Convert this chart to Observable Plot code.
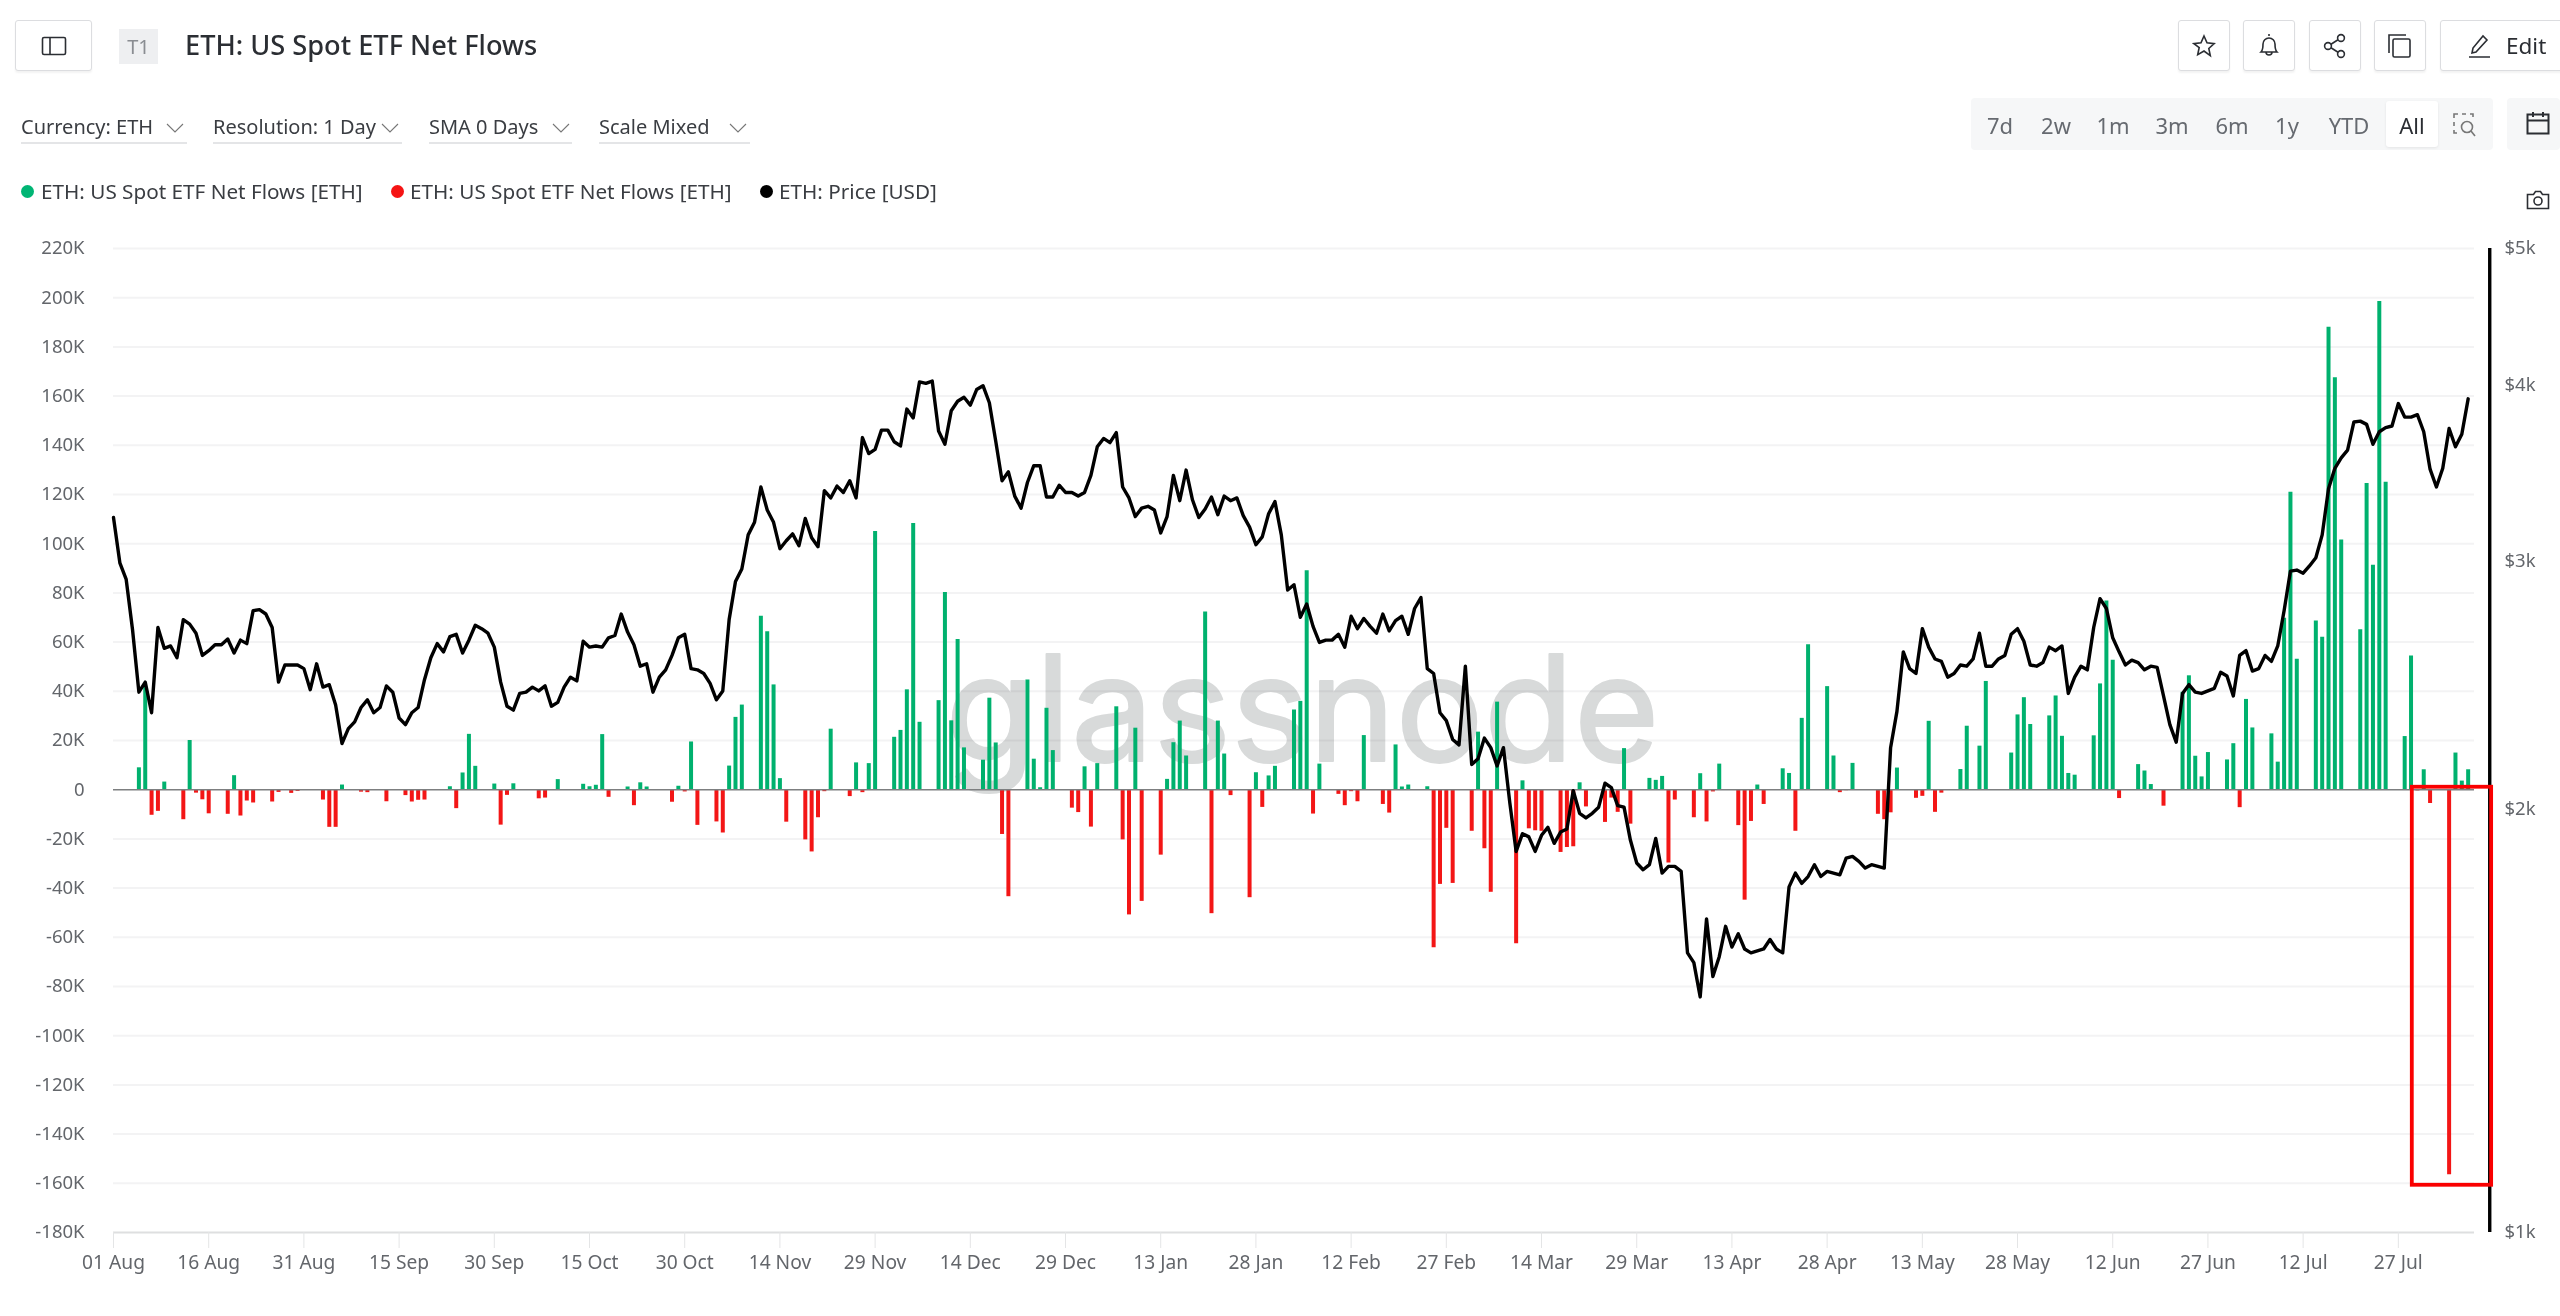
<!DOCTYPE html>
<html><head><meta charset="utf-8">
<script src="https://cdn.jsdelivr.net/npm/d3@7"></script>
<script src="https://cdn.jsdelivr.net/npm/@observablehq/plot@0.6"></script>
<style>
html,body{margin:0;padding:0;background:#fff;width:2560px;height:1316px;overflow:hidden;font-family:"Noto Sans",sans-serif;color:#2b2e33}
#hdr{position:relative;width:2560px;height:230px}
#hdr>*{position:absolute;box-sizing:border-box}
.btn{top:20px;height:51px;border:1px solid #dcdde0;border-radius:3px;box-shadow:0 2px 2px rgba(0,0,0,.05);display:flex;align-items:center;justify-content:center;background:#fff}
.dd{top:111px;font-size:20px;line-height:32px;height:33px;border-bottom:2px solid #e4e5e7;color:#3a3d42;white-space:nowrap}
.chev{position:absolute;top:11px}
.leg{top:177px;font-size:20.7px;line-height:28px;color:#3a3d42;white-space:nowrap}
.dot{top:185px;width:13px;height:13px;border-radius:50%}
.rg{top:108px;font-size:22px;line-height:34px;color:#666a70;transform:translateX(-50%)}
svg.ic{fill:none;stroke:#2b2e33;stroke-width:1.6}
svg.chev{stroke-width:1.1}
#chart{position:absolute;left:0;top:230px}
</style></head><body>
<div id="hdr">
 <div class="btn" style="left:15px;width:77px"><svg class="ic" width="26" height="20" viewBox="0 0 26 20"><rect x="1.5" y="1.5" width="23" height="17" rx="1.5"/><line x1="9" y1="1.5" x2="9" y2="18.5"/></svg></div>
 <div style="left:119px;top:29px;width:39px;height:35px;background:#eeeff1;color:#8a8d92;font-size:20px;line-height:35px;text-align:center">T1</div>
 <div style="left:185px;top:25px;font-size:27.2px;line-height:40px;font-weight:500;color:#2b2e33;white-space:nowrap">ETH: US Spot ETF Net Flows</div>

 <div class="dd" style="left:21px;width:166px">Currency: ETH<svg class="chev ic" style="left:145px;stroke:#777" width="18" height="12" viewBox="0 0 18 12"><path d="M1 2l8 8 8-8"/></svg></div>
 <div class="dd" style="left:213px;width:189px">Resolution: 1 Day<svg class="chev ic" style="left:168px;stroke:#777" width="18" height="12" viewBox="0 0 18 12"><path d="M1 2l8 8 8-8"/></svg></div>
 <div class="dd" style="left:429px;width:143px">SMA 0 Days<svg class="chev ic" style="left:123px;stroke:#777" width="18" height="12" viewBox="0 0 18 12"><path d="M1 2l8 8 8-8"/></svg></div>
 <div class="dd" style="left:599px;width:151px">Scale Mixed<svg class="chev ic" style="left:130px;stroke:#777" width="18" height="12" viewBox="0 0 18 12"><path d="M1 2l8 8 8-8"/></svg></div>

 <div class="dot" style="left:21px;background:#00b574"></div><div class="leg" style="left:41px">ETH: US Spot ETF Net Flows [ETH]</div>
 <div class="dot" style="left:391px;background:#f51414"></div><div class="leg" style="left:410px">ETH: US Spot ETF Net Flows [ETH]</div>
 <div class="dot" style="left:760px;background:#000"></div><div class="leg" style="left:779px">ETH: Price [USD]</div>

 <div class="btn" style="left:2178px;width:52px"><svg class="ic" width="24" height="24" viewBox="0 0 24 24"><path d="M12 2l3 6.8 7.2.8-5.4 4.9 1.5 7.2L12 17l-6.3 3.7 1.5-7.2L1.8 9.6 9 8.8z"/></svg></div>
 <div class="btn" style="left:2243px;width:52px"><svg class="ic" width="24" height="26" viewBox="0 0 24 26"><path d="M12 1v2M4 19c2-2 2-4 2-8a6 6 0 0 1 12 0c0 4 0 6 2 8zM9 19a3 3 0 0 0 6 0"/></svg></div>
 <div class="btn" style="left:2309px;width:52px"><svg class="ic" width="24" height="26" viewBox="0 0 24 26"><circle cx="18" cy="5" r="3.4"/><circle cx="5" cy="13" r="3.4"/><circle cx="18" cy="21" r="3.4"/><path d="M8 11.2l7-4.4M8 14.8l7 4.4"/></svg></div>
 <div class="btn" style="left:2374px;width:52px"><svg class="ic" width="26" height="26" viewBox="0 0 26 26"><path d="M2 20V2h17"/><rect x="6" y="6" width="17" height="18" rx="1.5"/></svg></div>
 <div class="btn" style="left:2440px;width:125px;justify-content:flex-start"><svg class="ic" style="margin-left:26px" width="24" height="26" viewBox="0 0 24 26"><path d="M2 24h21M5 20l1-5L16 3l4 4L9 19z"/></svg><span style="margin-left:15px;font-size:22.5px">Edit</span></div>

 <div style="left:1971px;top:98px;width:522px;height:52px;background:#f6f7f8;border-radius:4px"></div>
 <div style="left:2386px;top:101px;width:52px;height:46px;background:#fff;border-radius:3px;box-shadow:0 1px 3px rgba(0,0,0,.08)"></div>
 <div class="rg" style="left:2000px">7d</div><div class="rg" style="left:2056px">2w</div><div class="rg" style="left:2113px">1m</div><div class="rg" style="left:2172px">3m</div><div class="rg" style="left:2232px">6m</div><div class="rg" style="left:2287px">1y</div><div class="rg" style="left:2349px">YTD</div><div class="rg" style="left:2412px;color:#2b2e33">All</div>
 <svg class="ic" style="left:2452px;top:112px;stroke:#777" width="24" height="26" viewBox="0 0 24 26"><path d="M2 6V2h4M10 2h4M18 2h3v3M2 10v4M2 18v3h3"/><circle cx="15" cy="15" r="5.5"/><path d="M19 19l4 5"/></svg>
 <div style="left:2507px;top:98px;width:53px;height:52px;background:#f6f7f8;border-radius:4px"></div>
 <svg class="ic" style="left:2526px;top:111px;stroke-width:2" width="24" height="24" viewBox="0 0 24 24"><rect x="1.5" y="3.5" width="21" height="19"/><path d="M1.5 9.5h21M7 1v5M17 1v5"/></svg>
 <svg class="ic" style="left:2526px;top:190px" width="24" height="20" viewBox="0 0 24 20"><path d="M1.5 4.5h6l2-3h5l2 3h6v14h-21z"/><circle cx="12" cy="11" r="4"/></svg>
</div>
<div id="chart"></div>
<script>
// Day index 0 is 2024-08-01. ETH price in USD per day.
const price = [
3220,2990,2910,2680,2420,2460,2340,2690,2600,2610,
2560,2725,2705,2665,2570,2590,2615,2615,2640,2580,
2635,2620,2765,2770,2750,2690,2460,2530,2530,2530,
2515,2430,2535,2440,2450,2370,2225,2280,2305,2360,
2390,2340,2360,2445,2420,2320,2295,2340,2360,2470,
2560,2620,2585,2650,2660,2580,2635,2700,2685,2665,
2605,2460,2365,2350,2415,2420,2440,2425,2445,2365,
2380,2440,2480,2465,2630,2605,2610,2605,2645,2655,
2750,2670,2615,2525,2535,2420,2480,2510,2570,2645,
2660,2515,2510,2495,2455,2390,2425,2725,2900,2960,
3130,3195,3385,3260,3195,3060,3100,3135,3075,3215,
3115,3070,3365,3325,3390,3355,3420,3325,3670,3575,
3600,3715,3715,3645,3620,3845,3790,4020,4010,4025,
3710,3630,3835,3895,3920,3870,3970,3995,3885,3650,
3420,3470,3335,3270,3410,3505,3505,3330,3330,3395,
3355,3355,3335,3355,3450,3615,3665,3640,3700,3385,
3325,3225,3270,3280,3260,3140,3225,3450,3310,3480,
3315,3220,3265,3330,3235,3335,3310,3325,3230,3170,
3080,3120,3240,3305,3130,2860,2885,2735,2795,2695,
2625,2635,2635,2660,2605,2740,2685,2730,2695,2665,
2750,2675,2720,2740,2660,2775,2825,2515,2495,2340,
2310,2240,2220,2525,2150,2170,2245,2210,2145,2210,
2020,1865,1920,1910,1865,1915,1940,1890,1925,1935,
2060,1985,1970,1985,2005,2085,2070,2010,2005,1900,
1830,1810,1825,1905,1800,1820,1820,1805,1580,1555,
1470,1670,1520,1570,1650,1595,1630,1590,1580,1585,
1590,1615,1590,1580,1760,1800,1770,1790,1825,1790,
1805,1800,1795,1845,1850,1835,1815,1825,1820,1815,
2210,2345,2585,2515,2495,2685,2605,2555,2545,2480,
2495,2530,2525,2555,2665,2525,2525,2555,2570,2660,
2685,2630,2530,2525,2540,2605,2590,2610,2415,2480,
2525,2510,2690,2820,2775,2645,2585,2530,2550,2540,
2510,2525,2520,2405,2295,2230,2415,2450,2420,2415,
2425,2435,2500,2485,2405,2570,2590,2505,2515,2570,
2545,2610,2765,2950,2955,2940,2975,3015,3130,3375,
3490,3550,3595,3765,3770,3750,3630,3705,3730,3740,
3880,3795,3795,3810,3705,3485,3385,3490,3725,3615,3690,3910];

// Days that have a flow, and the net flow in thousand ETH on that day.
const flowDay = [
4,5,6,7,8,11,12,13,14,15,
18,19,20,21,22,25,26,28,29,33,
34,35,36,39,40,43,46,47,48,49,
53,54,55,56,57,60,61,62,63,67,
68,70,74,75,76,77,78,81,82,83,
84,88,89,90,91,92,95,96,97,98,
99,102,103,104,105,106,109,110,111,112,
113,116,117,118,119,120,123,124,125,126,
127,130,131,132,133,134,137,138,139,140,
141,144,145,146,147,148,151,152,153,154,
155,158,159,160,161,162,165,166,167,168,
169,172,173,174,175,176,179,180,181,182,
183,186,187,188,189,190,193,194,195,196,
197,200,201,202,203,204,207,208,209,210,
211,214,215,216,217,218,221,222,223,224,
225,228,229,230,231,232,235,236,237,238,
239,242,243,244,245,246,249,250,251,252,
253,256,257,258,259,260,263,264,265,266,
267,270,271,272,273,274,278,279,280,281,
284,285,286,287,288,291,292,294,295,299,
300,301,302,305,306,307,308,309,312,313,
314,315,316,319,320,321,323,326,327,328,
329,330,333,334,335,336,337,340,341,342,
343,344,347,348,349,350,351,354,355,356,
357,358,361,362,363,364,365,368,369,370,371];
const flowK = [
8.9,41.7,-10.4,-8.8,3.1,-12.2,20,-1.4,-4.1,-9.8,
-10,5.7,-10.7,-4.6,-5.4,-5,-1.1,-1.5,-0.7,-4.2,
-15.3,-15.3,1.9,-1,-1.2,-4.9,-2.4,-5,-4.3,-4.2,
1.2,-7.7,6.8,22.5,9.5,2.3,-14.4,-2.3,2.4,-3.7,
-3.4,4.1,2.2,1.2,1.8,22.4,-3.1,1.1,-6.5,2.8,
1.1,-5.1,1.4,-0.9,19.4,-14.5,-13.1,-17.6,9.6,29.4,
34.4,70.5,64.2,42.6,4.5,-13.2,-20.4,-25.3,-11.4,-0.8,
24.6,-2.8,10.9,-1.2,10.6,105,21.3,24.1,40.6,108.2,
27.4,36.2,80.2,28,61.1,17,12,37.2,19,-18.2,
-43.5,44.6,12.4,0.8,33.1,15.9,-7.5,-9.3,9.3,-15.2,
10.6,33.7,-20.4,-50.9,25,-45.4,-26.6,4.2,19.1,27.9,
13.7,72.2,-50.4,27.9,14.5,-2.4,-43.9,6.9,-7.2,5.6,
9.5,32.4,35.9,89,-9.9,10.4,-1.9,-6.5,-0.8,-4.9,
22,-6,-9.5,18.2,1.1,1.9,1.2,-64.2,-38.5,-15.7,
-38.1,-16.9,23.4,-24,-41.7,35.6,-62.6,3.6,-15.9,-16.7,
-16.9,-25.5,-23.5,-23.2,2.8,-7,-13.3,-3.4,-9.2,16.7,
-14,4.6,3.8,5.4,-29.8,-4.2,-11.4,6.5,-13.1,-0.9,
10.4,-14.6,-44.9,-12.9,1.9,-6,8.5,6.6,-16.9,29,
58.9,41.9,13.7,-1.2,-0.4,10.7,-10,-12.2,-9.4,8.8,
-3.5,-2.7,27.8,-9.2,-1.4,8.2,25.8,17.7,44,14.9,
30.4,37.4,26.5,30,38.1,21.7,6.6,5.9,21.9,43,
76.7,52.6,-3.6,10.2,7.6,2.1,-6.7,39.6,46.3,13.6,
5.2,15.1,12.1,18.7,-7.3,36.7,25.1,22.7,11.2,69.7,
120.9,53,68.6,62,188,167.5,101.5,65,124.5,91.2,
198.5,125,21.6,54.3,-0.5,8.1,-5.6,-156.5,14.9,3.5,8.1];

const yTicks = d3.range(-180, 221, 20);
const priceTicks = [1000, 2000, 3000, 4000, 5000];
const priceLabels = ["$1k", "$2k", "$3k", "$4k", "$5k"];
const xTickDays = d3.range(0, 361, 15);
const xTickLabels = ["01 Aug","16 Aug","31 Aug","15 Sep","30 Sep","15 Oct","30 Oct","14 Nov","29 Nov","14 Dec","29 Dec","13 Jan","28 Jan","12 Feb","27 Feb","14 Mar","29 Mar","13 Apr","28 Apr","13 May","28 May","12 Jun","27 Jun","12 Jul","27 Jul"];

const day = d => new Date(Date.UTC(2024, 7, 1) + d * 864e5);
const priceToY = d3.scaleLog().domain([1000, 5000]).range([-180, 220]);
const flows = flowDay.map((d, i) => ({date: day(d), k: flowK[i]}));
const tickLabel = new Map(xTickDays.map((d, i) => [+day(d), xTickLabels[i]]));
const priceLabel = new Map(priceTicks.map((p, i) => [priceToY(p), priceLabels[i]]));
const inkColor = "#63666b";
const sans = '"Noto Sans", sans-serif';

const plot = Plot.plot({
  width: 2560, height: 1086,
  marginLeft: 113, marginRight: 86, marginTop: 18, marginBottom: 84,
  style: {fontFamily: sans, background: "transparent", overflow: "visible"},
  x: {type: "utc", domain: [day(0), day(372)], axis: null},
  y: {type: "linear", domain: [-180, 220], axis: null},
  marks: [
    Plot.ruleY(yTicks.filter(v => v !== -180 && v !== 0), {stroke: "#f3f3f4", strokeWidth: 2}),
    Plot.text([{d: day(187.3), v: 11.8, t: "glassnode"}], {x: "d", y: "v", text: "t", fontSize: 147, fontFamily: "Inter", fontWeight: 400, fill: "#d8dada", stroke: "#d8dada", strokeWidth: 2, mixBlendMode: "multiply", lineAnchor: "bottom", textAnchor: "middle"}),
    Plot.ruleX(flows.filter(d => d.k > 0), {x: "date", y1: 0, y2: "k", stroke: "#00b16e", strokeWidth: 4}),
    Plot.ruleX(flows.filter(d => d.k < 0), {x: "date", y1: 0, y2: "k", stroke: "#f31616", strokeWidth: 4}),
    Plot.ruleY([0], {stroke: "#7d7f80", strokeWidth: 1.6}),
    Plot.ruleY([-180], {stroke: "#dedfe0", strokeWidth: 2}),
    Plot.axisY(yTicks, {anchor: "left", tickSize: 0, tickPadding: 29, fontSize: 18.5, color: inkColor, label: null, tickFormat: v => v === 0 ? "0" : v + "K"}),
    Plot.axisY(priceTicks.map(p => priceToY(p)), {anchor: "right", tickSize: 0, tickPadding: 30, fontSize: 18.5, color: inkColor, label: null, tickFormat: v => priceLabel.get(v)}),
    Plot.axisX(xTickDays.map(day), {anchor: "bottom", tickSize: 16, tickPadding: 7, fontSize: 19.2, stroke: "#e4e5e6", fill: inkColor, label: null, tickFormat: d => tickLabel.get(+d)}),
    Plot.line(price, {x: (_, i) => day(i), y: p => priceToY(p), stroke: "#000", strokeWidth: 3.4}),
    Plot.ruleX([day(374.4)], {y1: -180, y2: 220, stroke: "#000", strokeWidth: 3.4}),
    Plot.rect([{a: day(362.2), b: day(374.7), top: 1, bottom: -160.8}], {x1: "a", x2: "b", y1: "bottom", y2: "top", fill: "none", stroke: "#fa0000", strokeWidth: 3.8})
  ]
});
document.getElementById("chart").appendChild(plot);
</script>
</body></html>
